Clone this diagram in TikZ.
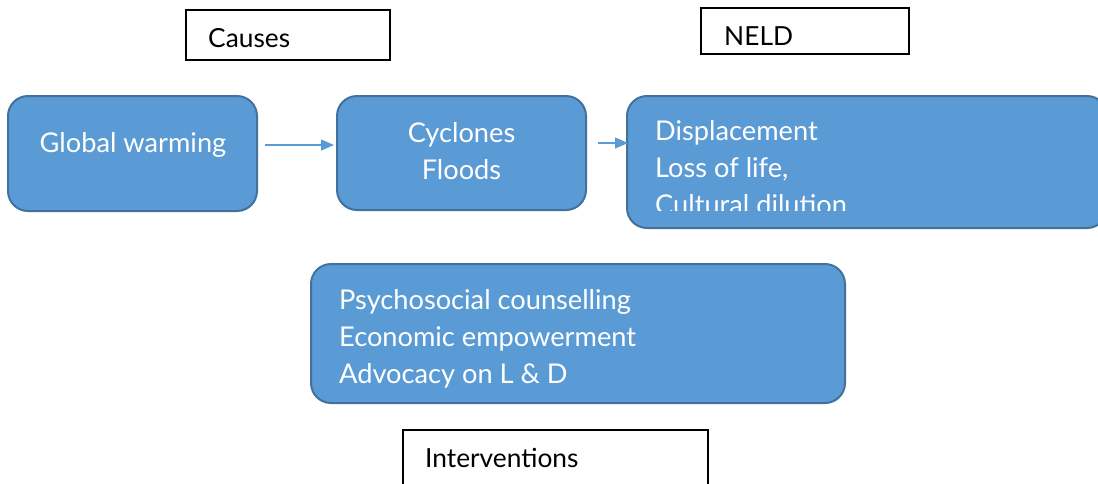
\documentclass[tikz,border=0pt]{standalone}
\usepackage{fontspec}
\setmainfont{Lato}
\usetikzlibrary{arrows.meta}
\definecolor{boxfill}{HTML}{5B9BD5}
\definecolor{boxline}{HTML}{41719C}
\tikzset{
  bluebox/.style={draw=boxline, line width=2pt, fill=boxfill, rounded corners=20pt, inner sep=0pt},
  labelbox/.style={draw=black, line width=1.3pt, fill=white, inner sep=0pt},
  wtext/.style={text=white, font=\fontsize{27.2}{37}\selectfont, inner sep=0pt, anchor=base west},
  ktext/.style={text=black, font=\fontsize{26.3}{30}\selectfont, inner sep=0pt, anchor=base west},
  conn/.style={draw=boxfill, line width=1.2pt, -{Triangle[length=13pt,width=11pt]}}
}
\begin{document}
\begin{tikzpicture}[x=1pt,y=-1pt]
\useasboundingbox (0,0) rectangle (1098,483);
% label boxes
\node[labelbox, minimum width=204pt, minimum height=50pt] (causesbox) at (288,35) {};
\node[ktext] (causes) at (208,47) {Causes};
\node[labelbox, minimum width=208pt, minimum height=46pt] (neldbox) at (805,31) {};
\node[ktext] (neld) at (724,45) {NELD};
% blue boxes
\node[bluebox, minimum width=249pt, minimum height=115pt] (gw) at (132.5,153.5) {};
\node[wtext, anchor=base] (gwt) at (133,152) {Global warming};
\node[bluebox, minimum width=249pt, minimum height=114pt] (cf) at (461.5,153) {};
\node[wtext, anchor=base] (cft1) at (461.5,142) {Cyclones};
\node[wtext, anchor=base] (cft2) at (461.5,179) {Floods};
\node[bluebox, minimum width=480pt, minimum height=132pt] (nd) at (867,162) {};
\begin{scope}
\clip (620,90) rectangle (1098,210.5);
\node[wtext] (ndt1) at (655,140) {Displacement};
\node[wtext] (ndt2) at (655,177) {Loss of life,};
\node[wtext] (ndt3) at (655,214) {Cultural dilution};
\end{scope}
\node[bluebox, minimum width=534pt, minimum height=139pt] (iv) at (578,333.5) {};
\node[wtext] (ivt1) at (339,309) {Psychosocial counselling};
\node[wtext] (ivt2) at (339,346) {Economic empowerment};
\node[wtext] (ivt3) at (339,383) {Advocacy on L \& D};
\node[labelbox, minimum width=305pt, minimum height=70pt] (ivbox) at (555.5,465) {};
\node[ktext] (ivlab) at (425,467) {Interventions};
% connectors
\coordinate (a1s) at (265,145);
\coordinate (a1e) at (334,145);
\coordinate (a2s) at (598,143);
\coordinate (a2e) at (628,143);
\draw[conn] (a1s) -- (a1e);
\draw[conn] (a2s) -- (a2e);
\end{tikzpicture}
\end{document}
